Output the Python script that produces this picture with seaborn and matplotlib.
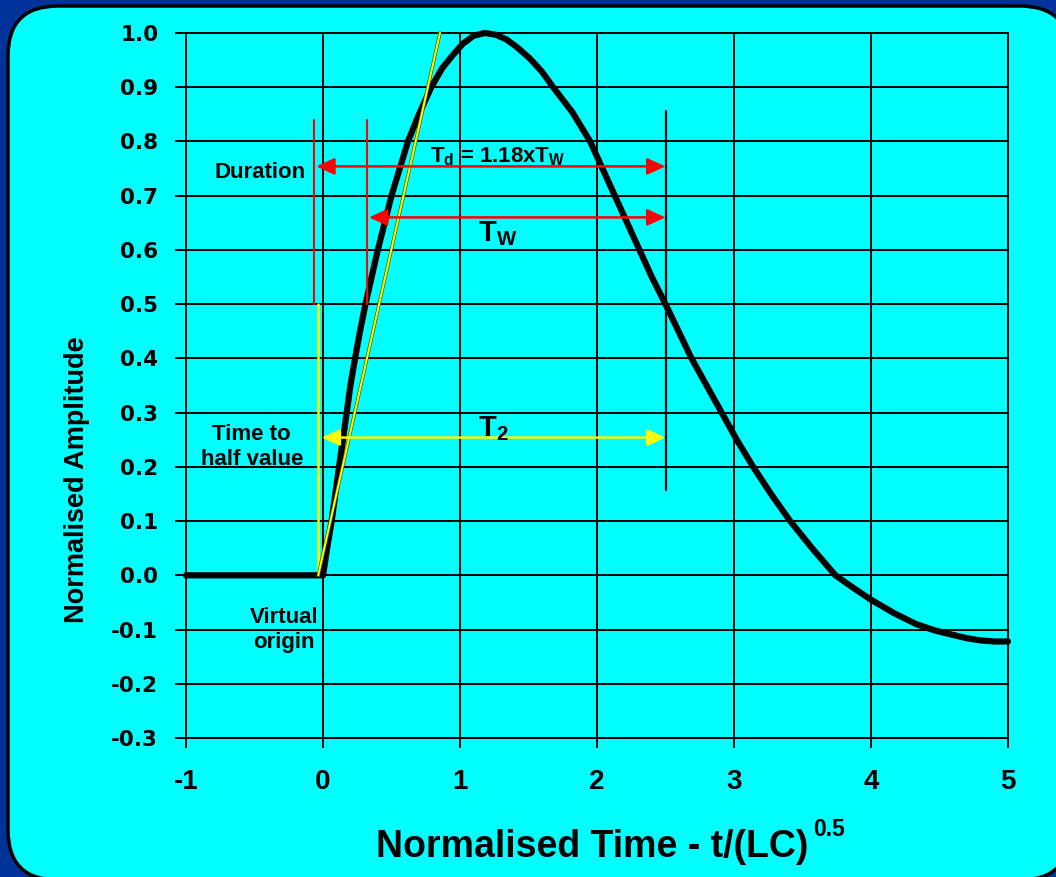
import matplotlib
matplotlib.use("Agg")
import pandas as pd
import matplotlib.pyplot as plt
import seaborn as sns
from matplotlib.patches import FancyBboxPatch
from matplotlib import patheffects

# Normalised waveform
time = [-1.0, 0.0, 0.03, 0.063, 0.09, 0.117, 0.145, 0.173, 0.20, 0.234, 0.27, 0.31,
        0.355, 0.40, 0.45, 0.50, 0.56, 0.62, 0.70, 0.79, 0.87, 0.95, 1.02, 1.10, 1.18,
        1.26, 1.34, 1.42, 1.51, 1.60, 1.68, 1.82, 1.95, 2.04, 2.13, 2.22, 2.31, 2.40,
        2.50, 2.595, 2.69, 2.80, 2.91, 3.02, 3.14, 3.27, 3.41, 3.57, 3.74, 3.87, 4.0,
        4.17, 4.33, 4.47, 4.6, 4.7, 4.8, 4.9, 5.0]
amplitude = [0.0, 0.0, 0.05, 0.1, 0.15, 0.2, 0.25, 0.3, 0.35, 0.4, 0.45, 0.5,
             0.55, 0.6, 0.65, 0.7, 0.75, 0.8, 0.85, 0.9, 0.935, 0.96, 0.98, 0.995, 1.0,
             0.997, 0.988, 0.973, 0.953, 0.928, 0.9, 0.854, 0.8, 0.75, 0.7, 0.65, 0.6, 0.55,
             0.5, 0.45, 0.4, 0.35, 0.3, 0.25, 0.2, 0.15, 0.1, 0.05, 0.0, -0.023, -0.045,
             -0.07, -0.09, -0.102, -0.11, -0.116, -0.12, -0.122, -0.122]

# Construction lines
virtual_origin = -0.035
duration_start = -0.065
tw_start = 0.32
t_end = 2.5
half_level = 0.5
tangent_x = [-0.035, 0.854]
tangent_y = [0.0, 1.0]
duration_level = 0.754
tw_level = 0.66
t2_level = 0.254

x_ticks = [-1, 0, 1, 2, 3, 4, 5]
y_ticks = [1.0, 0.9, 0.8, 0.7, 0.6, 0.5, 0.4, 0.3, 0.2, 0.1, 0.0, -0.1, -0.2, -0.3]

df = pd.DataFrame({"time": time, "amplitude": amplitude})

sns.set_style("whitegrid", {"axes.facecolor": "#00FFFF", "grid.color": "black",
                            "axes.edgecolor": "black", "text.color": "black",
                            "axes.labelcolor": "black", "xtick.color": "black",
                            "ytick.color": "black"})
plt.rcParams["font.family"] = ["Liberation Sans", "DejaVu Sans"]
plt.rcParams["font.weight"] = "bold"
plt.rcParams["axes.unicode_minus"] = False
plt.rcParams["mathtext.default"] = "regular"

fig = plt.figure(figsize=(10.56, 8.77), dpi=100)
fig.patch.set_facecolor("#003399")

# rounded cyan panel behind the chart
panel = FancyBboxPatch((0.08, -0.03), 10.62, 8.74,
                       boxstyle="round,pad=0,rounding_size=0.5",
                       transform=fig.dpi_scale_trans, facecolor="#00FFFF",
                       edgecolor="black", linewidth=2.5, zorder=-5)
fig.patches.append(panel)

ax = fig.add_axes([186 / 1056, (877 - 738) / 877, (1008 - 186) / 1056, (738 - 33) / 877])

sns.lineplot(data=df, x="time", y="amplitude", ax=ax, color="black", linewidth=4.5,
             zorder=5, clip_on=False)

ax.set_xlim(-1, 5)
ax.set_ylim(-0.3, 1.0)
ax.set_xticks(x_ticks)
ax.set_yticks(y_ticks)
ax.set_xticklabels([str(t) for t in x_ticks])
ax.set_yticklabels([f"{t:.1f}" for t in y_ticks])
ax.grid(True, color="black", linewidth=1.4)
for s in ax.spines.values():
    s.set_linewidth(1.4)
    s.set_color("black")

ax.tick_params(axis="y", direction="out", length=8, width=1.4, color="black",
               labelcolor="black", left=True, labelsize=15.5, pad=12)
ax.tick_params(axis="x", direction="out", length=7, width=1.4, color="black",
               labelcolor="black", bottom=True, labelsize=20, pad=15)
for lbl in ax.get_yticklabels():
    lbl.set_fontfamily("DejaVu Sans")
    lbl.set_fontweight("bold")
for lbl in ax.get_xticklabels():
    lbl.set_fontweight("bold")

ax.set_xlabel("")
ax.set_ylabel("Normalised Amplitude", fontsize=19.5, fontweight="bold", color="black")
ax.yaxis.set_label_coords(-0.117, 0.366)

fig.text(808 / 1056, (877 - 857) / 877, "Normalised Time - t/(LC)", ha="right",
         va="baseline", fontsize=27, fontweight="bold", color="black")
fig.text(813 / 1056, (877 - 836) / 877, "0.5", ha="left", va="baseline",
         fontsize=16.5, fontweight="bold", color="black")

# construction lines
ax.plot([duration_start, duration_start], [half_level, 0.84], color="red", lw=1.5, zorder=6)
ax.plot([tw_start, tw_start], [half_level, 0.84], color="red", lw=1.5, zorder=6)
ax.plot([virtual_origin, virtual_origin], [0.0, half_level], color="yellow", lw=1.8, zorder=6)
ax.plot(tangent_x, tangent_y, color="yellow", lw=1.4, zorder=7, clip_on=False,
        path_effects=[patheffects.Stroke(linewidth=2.4, foreground="#555500"),
                      patheffects.Normal()])
ax.plot([t_end, t_end], [0.158, 0.856], color="black", lw=1.6, zorder=6)

arrow_kw = dict(arrowstyle="<|-|>,head_length=0.55,head_width=0.25", lw=1.8,
                mutation_scale=20, shrinkA=0, shrinkB=0)
ax.annotate("", xy=(t_end, duration_level), xytext=(duration_start + 0.015, duration_level),
            arrowprops=dict(color="red", **arrow_kw), zorder=8)
ax.annotate("", xy=(t_end, tw_level), xytext=(tw_start + 0.015, tw_level),
            arrowprops=dict(color="red", **arrow_kw), zorder=8)
ax.annotate("", xy=(t_end, t2_level), xytext=(virtual_origin + 0.025, t2_level),
            arrowprops=dict(color="yellow", **arrow_kw), zorder=8)

# annotation text
txt = dict(color="black", zorder=9)
ax.text(-0.125, 0.733, "Duration", ha="right", va="baseline", fontsize=16, **txt)
ax.text(0.78, 0.762, "$T_d$ = 1.18x$T_W$", ha="left", va="baseline", fontsize=16, **txt)
ax.text(1.13, 0.616, "$T_W$", ha="left", va="baseline", fontsize=21, **txt)
ax.text(1.13, 0.256, "$T_2$", ha="left", va="baseline", fontsize=21, **txt)
ax.text(-0.52, 0.237, "Time to\nhalf value", ha="center", va="center",
        multialignment="center", fontsize=16, linespacing=1.25, **txt)
ax.text(-0.285, -0.1, "Virtual\norigin", ha="center", va="center",
        multialignment="center", fontsize=16, linespacing=1.25, **txt)

fig.savefig("out.png", dpi=100, facecolor=fig.get_facecolor())
